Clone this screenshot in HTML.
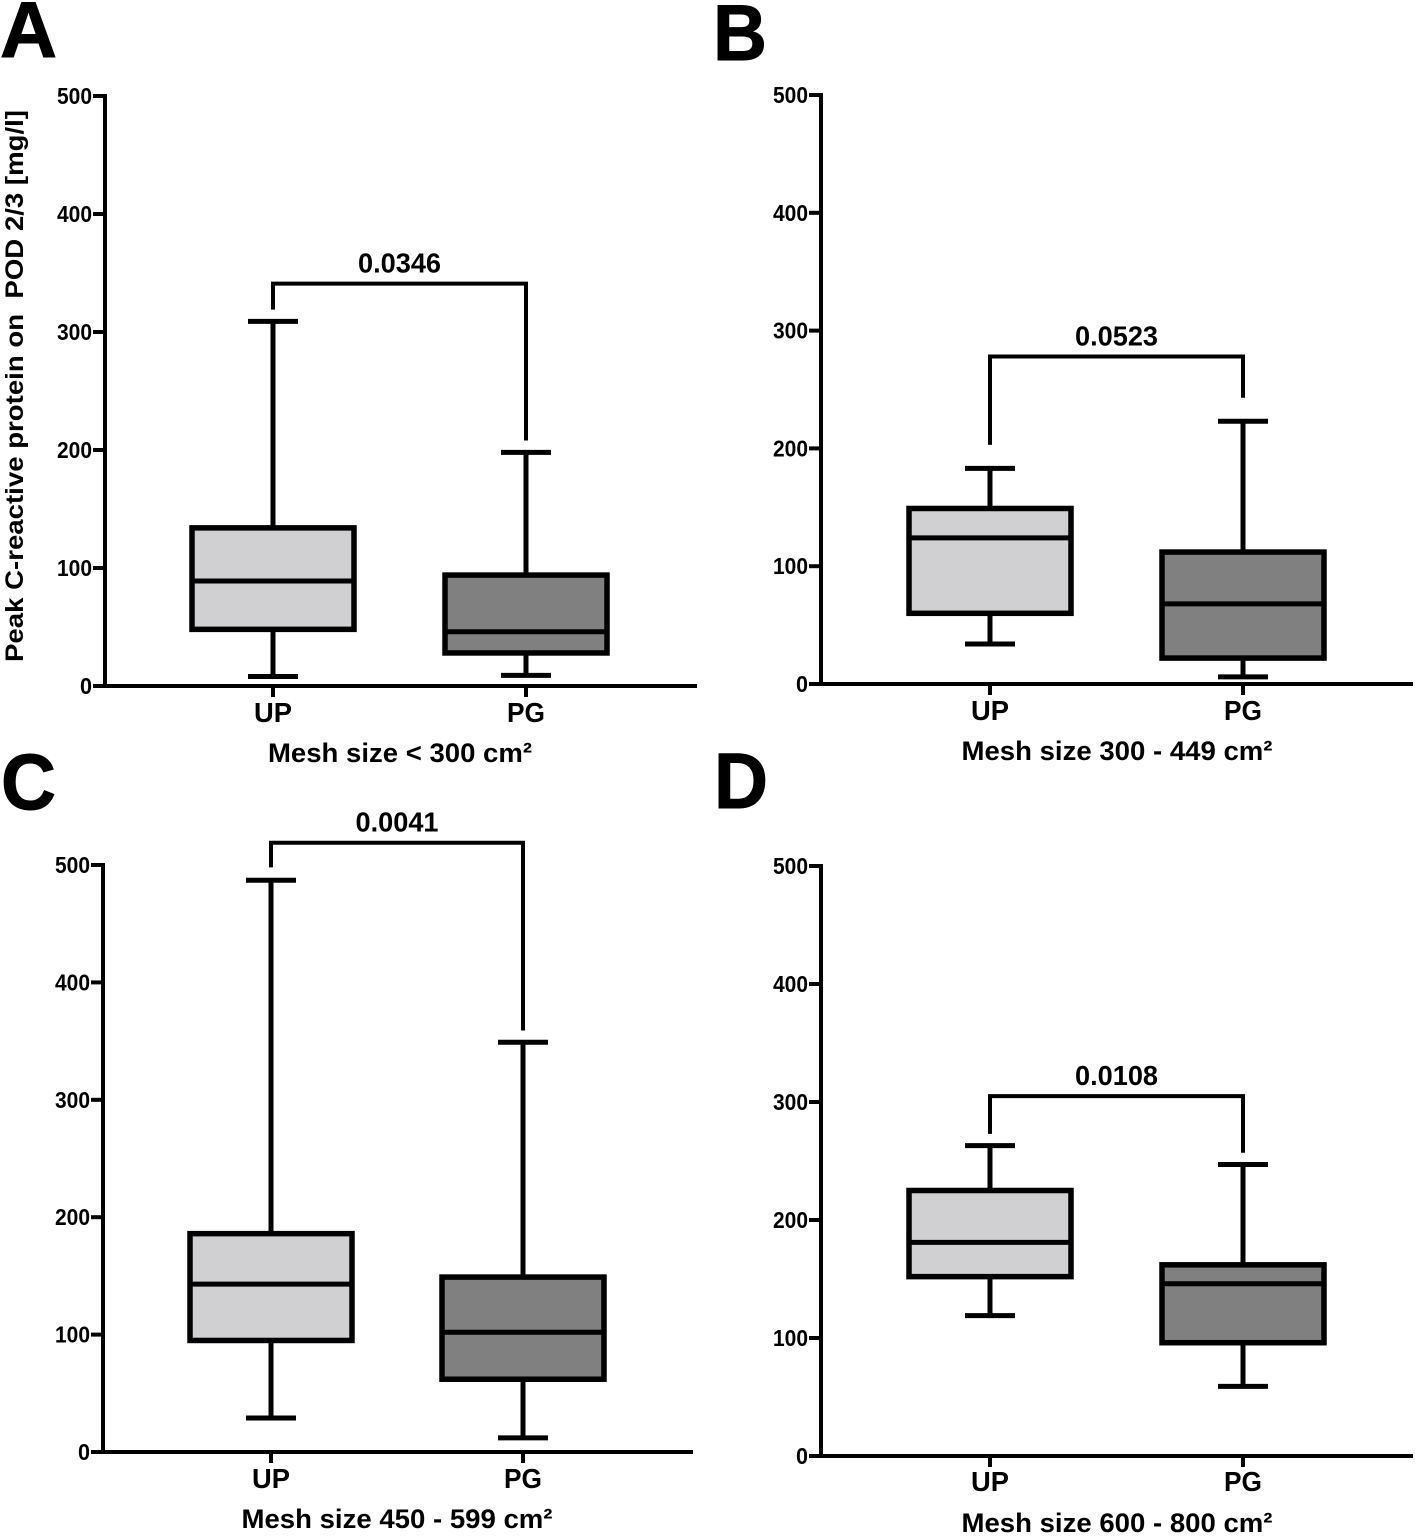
<!DOCTYPE html>
<html lang="en">
<head>
<meta charset="utf-8">
<title>Peak C-reactive protein by mesh size</title>
<style>
html,body{margin:0;padding:0;background:#fff;width:1417px;height:1536px;overflow:hidden}
svg{display:block}
text{font-family:"Liberation Sans",sans-serif;font-weight:bold;fill:#000}
</style>
</head>
<body>
<svg id="chart" xmlns="http://www.w3.org/2000/svg" width="1417" height="1536" viewBox="0 0 1417 1536">
  <text x="0" y="57" font-size="79" stroke="#000" stroke-width="1" textLength="57" lengthAdjust="spacingAndGlyphs">A</text>
  <text x="713" y="60" font-size="79" stroke="#000" stroke-width="1" textLength="54" lengthAdjust="spacingAndGlyphs">B</text>
  <text x="1" y="809" font-size="79" stroke="#000" stroke-width="1" textLength="55" lengthAdjust="spacingAndGlyphs">C</text>
  <text x="714" y="808" font-size="79" stroke="#000" stroke-width="1" textLength="54" lengthAdjust="spacingAndGlyphs">D</text>
  <text transform="translate(23,662) rotate(-90)" font-size="25" textLength="552" lengthAdjust="spacingAndGlyphs">Peak C-reactive protein on&#160;&#160;POD 2/3 [mg/l]</text>
</svg>
<script>
// Shared axis and category values
const yTicks = [0, 100, 200, 300, 400, 500];
const categories = ['UP', 'PG'];
const panelIds = ['a', 'b', 'c', 'd'];
const meshTitles = ['Mesh size < 300 cm²', 'Mesh size 300 - 449 cm²', 'Mesh size 450 - 599 cm²', 'Mesh size 600 - 800 cm²'];

// Box statistics: min, q1, median, q3, max
const panelAUp = [8, 48, 89, 134, 309];
const panelAPg = [9, 28, 46, 94, 198];
const panelBUp = [34, 60, 124, 149, 183];
const panelBPg = [6, 22, 68, 112, 223];
const panelCUp = [29, 95, 143, 186, 487];
const panelCPg = [12, 62, 102, 149, 349];
const panelDUp = [119, 152, 181, 225, 263];
const panelDPg = [59, 96, 146, 162, 247];

// Significance brackets
const pValues = ['0.0346', '0.0523', '0.0041', '0.0108'];
const bracketTops = [341, 278, 519, 305];
const bracketLeftEnds = [319, 203, 498, 273];
const bracketRightEnds = [208, 243, 359, 257];

const svg = document.getElementById('chart');
const NS = 'http://www.w3.org/2000/svg';
const upSeries = [panelAUp, panelBUp, panelCUp, panelDUp];
const pgSeries = [panelAPg, panelBPg, panelCPg, panelDPg];
const fills = ['#d0d0d2', '#808080'];

// Pixel frames of the four plots
const frames = [
  {left: 105, right: 697, top: 96, bottom: 686, c0: 273, c1: 526, catY: 722, titleX: 400, titleY: 762},
  {left: 821, right: 1413, top: 95, bottom: 684, c0: 990, c1: 1243, catY: 720, titleX: 1117, titleY: 760},
  {left: 103, right: 693, top: 865, bottom: 1452, c0: 271, c1: 523, catY: 1488, titleX: 397, titleY: 1528},
  {left: 821, right: 1413, top: 866, bottom: 1456, c0: 990, c1: 1243, catY: 1491, titleX: 1117, titleY: 1532}
];

function makeLine(parent, x1, y1, x2, y2, w) {
  const el = document.createElementNS(NS, 'line');
  el.setAttribute('x1', x1);
  el.setAttribute('y1', y1);
  el.setAttribute('x2', x2);
  el.setAttribute('y2', y2);
  el.setAttribute('stroke', '#000');
  el.setAttribute('stroke-width', w);
  parent.appendChild(el);
  return el;
}

function makeText(parent, x, y, size, anchor, str, len) {
  const el = document.createElementNS(NS, 'text');
  el.setAttribute('x', x);
  el.setAttribute('y', y);
  el.setAttribute('font-size', size);
  el.setAttribute('text-anchor', anchor);
  if (len) {
    el.setAttribute('textLength', len);
    el.setAttribute('lengthAdjust', 'spacingAndGlyphs');
  }
  el.textContent = str;
  parent.appendChild(el);
  return el;
}

panelIds.forEach(function (id, p) {
  const f = frames[p];
  const yScale = function (v) { return f.bottom - (v / 500) * (f.bottom - f.top); };

  const g = document.createElementNS(NS, 'g');
  
  
  svg.appendChild(g);

  // Box plots are painted first, axes over them
  [upSeries[p], pgSeries[p]].forEach(function (vals, c) {
    const cx = c === 0 ? f.c0 : f.c1;
    const halfBox = 81;
    const halfCap = 25;
    const box = document.createElementNS(NS, 'g');
    
    
    g.appendChild(box);

    const upper = makeLine(box, cx, yScale(vals[4]), cx, yScale(vals[3]), 5);
    
    
    const lower = makeLine(box, cx, yScale(vals[1]), cx, yScale(vals[0]), 5);
    
    
    const capHigh = makeLine(box, cx - halfCap, yScale(vals[4]), cx + halfCap, yScale(vals[4]), 5);
    
    
    const capLow = makeLine(box, cx - halfCap, yScale(vals[0]), cx + halfCap, yScale(vals[0]), 5);
    
    

    const rect = document.createElementNS(NS, 'rect');
    rect.setAttribute('x', cx - halfBox);
    rect.setAttribute('y', yScale(vals[3]));
    rect.setAttribute('width', halfBox * 2);
    rect.setAttribute('height', yScale(vals[1]) - yScale(vals[3]));
    rect.setAttribute('fill', fills[c]);
    rect.setAttribute('stroke', '#000');
    rect.setAttribute('stroke-width', 5.5);
    
    
    box.appendChild(rect);

    const median = makeLine(box, cx - halfBox, yScale(vals[2]), cx + halfBox, yScale(vals[2]), 5);
    
    
  });

  // Y axis
  const yAxis = makeLine(g, f.left, f.top - 2, f.left, f.bottom + 2, 4);
  
  
  yTicks.forEach(function (t) {
    const tick = makeLine(g, f.left - 12, yScale(t), f.left, yScale(t), 4);
    
    
    const label = makeText(g, f.left - 13, yScale(t) + 8, 23, 'end', String(t), t === 0 ? 12 : 35);
    
    
  });

  // X axis
  const xAxis = makeLine(g, f.left - 2, f.bottom, f.right, f.bottom, 4);
  
  
  categories.forEach(function (cat, c) {
    const cx = c === 0 ? f.c0 : f.c1;
    const tick = makeLine(g, cx, f.bottom, cx, f.bottom + 11, 4);
    
    
    const label = makeText(g, cx, f.catY, 28, 'middle', cat, 38);
    
    
  });

  const title = makeText(g, f.titleX, f.titleY, 27, 'middle', meshTitles[p], p === 0 ? 264 : 311);
  
  

  // Bracket
  const bracket = document.createElementNS(NS, 'polyline');
  bracket.setAttribute('points', [
    f.c0 + ',' + yScale(bracketLeftEnds[p]),
    f.c0 + ',' + yScale(bracketTops[p]),
    f.c1 + ',' + yScale(bracketTops[p]),
    f.c1 + ',' + yScale(bracketRightEnds[p])
  ].join(' '));
  bracket.setAttribute('fill', 'none');
  bracket.setAttribute('stroke', '#000');
  bracket.setAttribute('stroke-width', 4);
  
  
  g.appendChild(bracket);

  const pLabel = makeText(g, (f.c0 + f.c1) / 2, yScale(bracketTops[p]) - 11, 28, 'middle', pValues[p], 83);
  
  
});
</script>
</body>
</html>
